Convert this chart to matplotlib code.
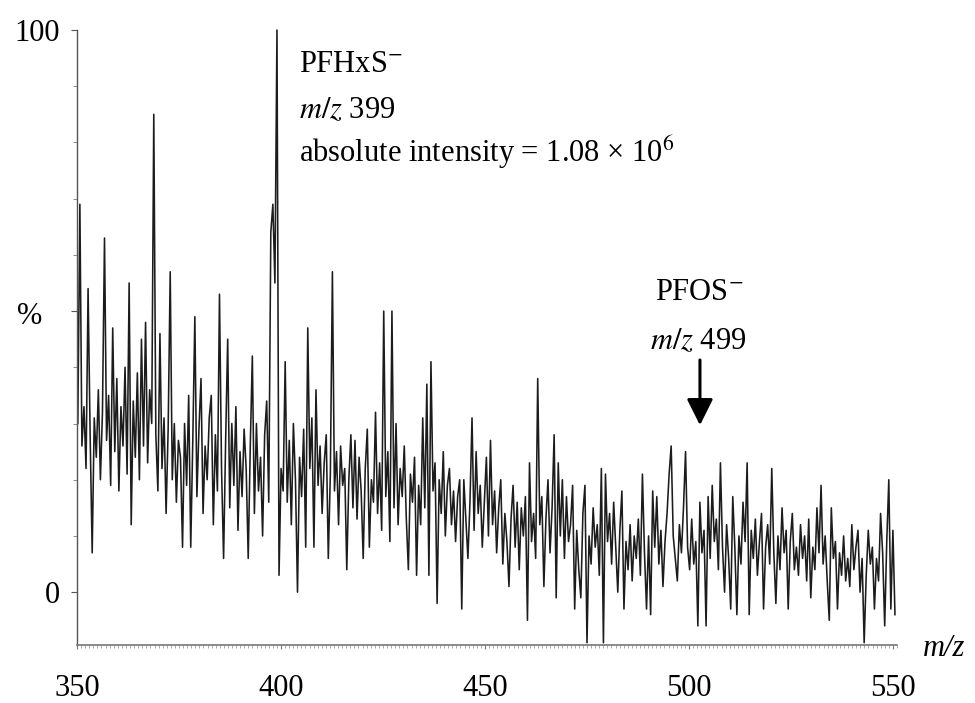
import numpy as np
import matplotlib
matplotlib.use('Agg')
import matplotlib.pyplot as plt
from matplotlib.ticker import MultipleLocator, FixedLocator

plt.rcParams['font.family'] = ['Liberation Serif', 'DejaVu Serif']
plt.rcParams['mathtext.fontset'] = 'stix'

# m/z range of the scan
mz_start, mz_end = 350.2, 550.5

# relative intensity (%), segment by segment
seg_350 = [30, 69, 26, 33, 22, 54, 28, 7, 31, 24, 36, 20, 32, 63, 27, 35, 19, 47, 25, 38,
           18, 33, 26, 40, 21, 55, 12, 34, 24, 39, 20, 45, 26, 48, 23, 36, 30, 85, 28, 18,
           46, 22, 31, 14, 29, 57, 20, 30, 16, 27]
seg_375 = [24, 8, 30, 19, 35, 8, 27, 49, 17, 29, 38, 14, 26, 20, 31, 35, 12, 28, 18, 53,
           22, 6, 27, 45, 15, 30, 19, 33, 11, 25, 17, 29, 22, 6, 26, 42, 14, 30, 18, 24,
           10, 28, 34, 16, 64, 69, 55, 100, 3, 22]
seg_400 = [18, 41, 16, 27, 12, 30, 20, 0, 24, 17, 29, 8, 47, 22, 31, 8, 36, 19, 26, 14,
           23, 28, 6, 21, 57, 18, 25, 12, 26, 19, 22, 4, 20, 28, 15, 27, 13, 24, 18, 6,
           22, 29, 8, 20, 16, 32, 14, 23, 11, 50]
seg_425 = [17, 25, 9, 50, 15, 30, 12, 22, 17, 26, 13, 4, 21, 16, 24, 3, 19, 12, 31, 15,
           37, 3, 41, 18, 23, -2, 20, 14, 25, 10, 19, 22, 12, 18, 9, 17, 20, -3, 20, 13,
           6, 16, 31, 11, 25, 14, 19, 8, 16, 24]
seg_450 = [10, 27, 12, 18, 7, 15, 20, 5, 14, 9, 1, 13, 19, 8, 16, 4, 15, 10, 17, -5,
           23, 9, 14, 6, 38, 12, 17, 1, 13, 20, 7, 15, 28, -1, 23, 10, 20, 6, 17, 9,
           12, 19, -3, 11, 4, -1, 14, 19, -9, 10]
seg_475 = [5, 15, 8, 12, 3, 22, -9, 21, 9, 14, 5, 16, 8, 0, 11, 18, -3, 9, 4, 12,
           2, 10, 6, 13, 3, 21, 7, -3, 10, -4, 18, 8, 17, 5, 11, 1, 9, 14, 21, 26,
           10, 6, 2, 12, 7, 15, 25, 8, 4, 13]
seg_500 = [5, 9, -6, 16, 7, 11, -6, 17, 6, 19, 9, 13, 4, 23, 8, 0, 12, 6, -3, 17,
           8, -4, 10, 5, 16, 9, 23, -4, 11, 6, 13, 3, 9, 14, -3, 8, 12, 5, 22, 7,
           -2, 10, 4, 15, 7, 11, -3, 9, 14, 4]
seg_525 = [8, 3, 12, 6, 10, 2, 13, -1, 8, 4, 15, 7, 19, 5, 10, 2, -5, 15, 6, 9,
           -3, 7, 3, 10, 2, 6, 1, 12, 4, 8, 11, 0, 6, -9, 3, 11, 5, 8, -3, 6,
           2, 14, 7, -6, 9, 20, -3, 11, -4]

intensity = np.concatenate([seg_350, seg_375, seg_400, seg_425,
                            seg_450, seg_475, seg_500, seg_525])
mz = np.linspace(mz_start, mz_end, len(intensity))

xticks = [350, 400, 450, 500, 550]
xticklabels = ['350', '400', '450', '500', '550']
yticks = [0, 50, 100]
yticklabels = ['0', '', '100']

fig = plt.figure(figsize=(9.75, 7.03), dpi=100)
ax = fig.add_axes([77/975, 1-645/703, 820/975, 615/703])
ax.plot(mz, intensity, color='#1c1c1c', lw=1.15, clip_on=False)
ax.set_xlim(350, 551)
ax.set_ylim(-9.4, 100)

for s in ['top', 'right']:
    ax.spines[s].set_visible(False)
ax.spines['left'].set_color('#555555')
ax.spines['left'].set_linewidth(1.0)
ax.spines['left'].set_bounds(-9.4, 100)
ax.spines['bottom'].set_color('#777777')
ax.spines['bottom'].set_linewidth(1.2)

ax.xaxis.set_major_locator(FixedLocator(xticks))
ax.set_xticklabels(xticklabels)
ax.xaxis.set_minor_locator(MultipleLocator(1))
ax.yaxis.set_major_locator(FixedLocator(yticks))
ax.set_yticklabels(yticklabels)
ax.yaxis.set_minor_locator(MultipleLocator(10))

ax.tick_params(axis='x', which='major', length=3, width=0.8, color='#777777',
               pad=18, labelsize=22)
ax.tick_params(axis='x', which='minor', length=2, width=0.5, color='#888888')
ax.tick_params(axis='y', which='major', length=4, width=0.8, color='#555555',
               pad=8, labelsize=22)
ax.tick_params(axis='y', which='minor', length=3, width=0.6, color='#777777')

fig.text(30/975, 1-316/703, '%', ha='center', va='center', fontsize=22)
fig.text(944/975, 1-648/703, 'm/z', ha='center', va='center', fontsize=22,
         fontstyle='italic')

ax.text(404.4, 92.5, 'PFHxS$^{-}$', fontsize=22, va='baseline', ha='left')
ax.text(404.4, 84.3, '$m/z$ 399', fontsize=22, va='baseline', ha='left')
ax.text(404.4, 76.5, 'absolute intensity = 1.08 × 10$^{6}$', fontsize=22,
        va='baseline', ha='left')

ax.text(491.7, 52.0, 'PFOS$^{-}$', fontsize=22, va='baseline', ha='left')
ax.text(490.4, 43.2, '$m/z$ 499', fontsize=22, va='baseline', ha='left')
ax.annotate('', xy=(502.7, 29.7), xytext=(502.7, 41.3),
            arrowprops=dict(arrowstyle='-|>,head_length=0.8,head_width=0.4',
                            lw=2.2, color='black', mutation_scale=20,
                            shrinkA=0, shrinkB=0))

fig.savefig('out.png', dpi=100)
